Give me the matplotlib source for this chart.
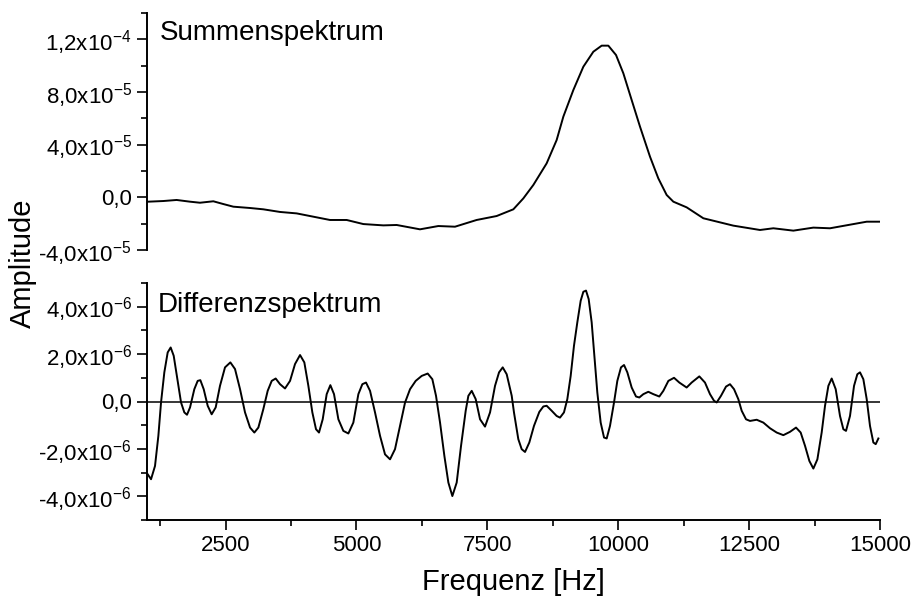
import numpy as np
import matplotlib
matplotlib.use("Agg")
import matplotlib.pyplot as plt
from matplotlib.ticker import MultipleLocator, FuncFormatter

# ---- data ----
# Summenspektrum: frequency [Hz] and amplitude [x1e-5]
sum_freq = [1000, 1025, 1312, 1566, 1821, 2012, 2267, 2458, 2649, 2967, 3222, 3540,
            3859, 4177, 4495, 4814, 5132, 5514, 5769, 6214, 6564, 6883, 7296, 7678,
            7997, 8188, 8379, 8633, 8824, 8952, 9143, 9334, 9525, 9684, 9811, 9958,
            10098, 10257, 10416, 10607, 10766, 10925, 11053, 11307, 11626, 12199,
            12708, 12963, 13345, 13727, 14045, 14746, 15000]
sum_amp_e5 = [-0.33, -0.33, -0.28, -0.20, -0.33, -0.41, -0.30, -0.51, -0.71, -0.81,
              -0.91, -1.11, -1.22, -1.47, -1.72, -1.72, -2.03, -2.13, -2.10, -2.43,
              -2.18, -2.23, -1.72, -1.42, -0.91, -0.08, 0.94, 2.58, 4.35, 6.13, 8.15,
              9.92, 11.06, 11.52, 11.52, 10.81, 9.42, 7.39, 5.37, 3.09, 1.44, 0.18,
              -0.33, -0.76, -1.59, -2.15, -2.48, -2.35, -2.53, -2.30, -2.35, -1.85,
              -1.85]

# Differenzspektrum: frequency [Hz] and amplitude [x1e-6]
diff_freq = [1013, 1077, 1153, 1217, 1268, 1331, 1395, 1452, 1510, 1580, 1650, 1713,
             1764, 1822, 1904, 1968, 2019, 2083, 2159, 2235, 2312, 2394, 2490, 2592,
             2681, 2777, 2872, 2968, 3050, 3127, 3222, 3305, 3382, 3458, 3541, 3636,
             3732, 3827, 3923, 4005, 4082, 4158, 4228, 4285, 4356, 4432, 4502, 4572,
             4655, 4750, 4846, 4941, 5037, 5113, 5183, 5260, 5355, 5451, 5546, 5642,
             5737, 5833, 5929, 6024, 6132, 6247, 6361, 6450, 6520, 6597, 6680, 6756,
             6832, 6915, 6998, 7087, 7138, 7202, 7278, 7361, 7456, 7552, 7647, 7724,
             7794, 7870, 7966, 8009, 8092, 8156, 8220, 8302, 8391, 8493, 8570, 8633,
             8729, 8824, 8888, 8964, 9028, 9092, 9155, 9219, 9283, 9334, 9385, 9436,
             9493, 9544, 9601, 9665, 9729, 9780, 9843, 9920, 9983, 10053, 10111,
             10174, 10257, 10340, 10403, 10480, 10575, 10671, 10785, 10862, 10958,
             11066, 11167, 11307, 11403, 11549, 11657, 11753, 11830, 11881, 11963,
             12059, 12135, 12212, 12294, 12358, 12441, 12517, 12645, 12772, 12900,
             13027, 13154, 13281, 13396, 13485, 13568, 13651, 13727, 13804, 13886,
             13950, 14014, 14077, 14154, 14236, 14300, 14351, 14427, 14504, 14567,
             14618, 14682, 14746, 14809, 14873, 14918, 14969]
diff_amp_e6 = [-3.07, -3.28, -2.72, -1.45, -0.04, 1.23, 2.07, 2.28, 1.93, 0.94, -0.04,
               -0.46, -0.56, -0.25, 0.52, 0.87, 0.90, 0.52, -0.18, -0.54, -0.25, 0.66,
               1.44, 1.65, 1.37, 0.52, -0.46, -1.10, -1.31, -1.10, -0.32, 0.45, 0.87,
               0.97, 0.73, 0.55, 0.87, 1.58, 1.96, 1.65, 0.66, -0.46, -1.17, -1.31,
               -0.75, 0.31, 0.69, 0.31, -0.75, -1.24, -1.35, -0.89, 0.31, 0.73, 0.80,
               0.45, -0.46, -1.45, -2.23, -2.44, -2.01, -1.03, -0.04, 0.52, 0.87, 1.08,
               1.18, 0.94, 0.24, -0.89, -2.30, -3.42, -3.99, -3.42, -1.87, -0.39, 0.24,
               0.45, 0.10, -0.75, -1.06, -0.46, 0.66, 1.23, 1.44, 1.15, 0.24, -0.46,
               -1.59, -2.01, -2.13, -1.73, -1.03, -0.44, -0.21, -0.18, -0.39, -0.61,
               -0.68, -0.46, 0.10, 1.08, 2.35, 3.34, 4.25, 4.63, 4.68, 4.32, 3.34, 1.93,
               0.38, -0.89, -1.52, -1.56, -1.03, -0.04, 0.87, 1.44, 1.54, 1.23, 0.59,
               0.21, 0.17, 0.31, 0.41, 0.31, 0.21, 0.45, 0.87, 1.00, 0.80, 0.59, 0.80,
               1.06, 0.80, 0.31, 0.03, -0.04, 0.24, 0.63, 0.73, 0.52, 0.10, -0.39,
               -0.75, -0.82, -0.77, -0.89, -1.13, -1.31, -1.42, -1.28, -1.10, -1.31,
               -1.87, -2.51, -2.83, -2.44, -1.31, -0.18, 0.66, 0.97, 0.52, -0.61, -1.17,
               -1.24, -0.61, 0.66, 1.15, 1.23, 0.94, 0.10, -1.03, -1.73, -1.80, -1.56]

x_ticks = [2500, 5000, 7500, 10000, 12500, 15000]
title_top = "Summenspektrum"
title_bottom = "Differenzspektrum"
xlabel = "Frequenz [Hz]"
ylabel = "Amplitude"

plt.rcParams['font.family'] = ['Liberation Sans', 'DejaVu Sans']
plt.rcParams['mathtext.fontset'] = 'custom'
plt.rcParams['mathtext.rm'] = 'Liberation Sans'
plt.rcParams['mathtext.it'] = 'Liberation Sans:italic'
plt.rcParams['mathtext.bf'] = 'Liberation Sans:bold'


def fmt(v, pos):
    if abs(v) < 1e-15:
        return "0,0"
    e = int(np.floor(np.log10(abs(v)) + 1e-9))
    m = v / 10 ** e
    return f"{m:.1f}".replace('.', ',') + r"x10$^{" + str(e) + "}$"


W, H = 913, 606
fig = plt.figure(figsize=(W / 100, H / 100), dpi=100)
L, R = 147 / W, 880 / W
ax1 = fig.add_axes([L, 1 - 250 / H, R - L, (250 - 13) / H])
ax2 = fig.add_axes([L, 1 - 520 / H, R - L, (520 - 283) / H])

lw = 1.4
ax1.plot(sum_freq, np.array(sum_amp_e5) * 1e-5, color='black', lw=lw,
         solid_joinstyle='round')
ax2.plot(diff_freq, np.array(diff_amp_e6) * 1e-6, color='black', lw=lw,
         solid_joinstyle='round')
ax2.axhline(0, color='black', lw=1.1)

for ax in (ax1, ax2):
    ax.set_xlim(1000, 15000)
    ax.spines['top'].set_visible(False)
    ax.spines['right'].set_visible(False)
    ax.spines['left'].set_linewidth(1.4)
    ax.spines['bottom'].set_linewidth(1.4)
    ax.yaxis.set_major_formatter(FuncFormatter(fmt))
    ax.tick_params(axis='both', which='major', direction='out', length=7, width=1.2,
                   labelsize=16, pad=4)
    ax.tick_params(axis='both', which='minor', direction='out', length=4, width=1.2)

ax1.set_ylim(-4e-5, 1.4e-4)
ax1.yaxis.set_major_locator(MultipleLocator(4e-5))
ax1.yaxis.set_minor_locator(MultipleLocator(2e-5))
ax1.spines['bottom'].set_visible(False)
ax1.tick_params(axis='x', which='both', bottom=False, labelbottom=False)

ax2.set_ylim(-5e-6, 5e-6)
ax2.yaxis.set_major_locator(MultipleLocator(2e-6))
ax2.yaxis.set_minor_locator(MultipleLocator(1e-6))
ax2.set_xticks(x_ticks)
ax2.xaxis.set_minor_locator(MultipleLocator(1250))
ax2.set_xticklabels([str(t) for t in x_ticks])

ax1.text(0.018, 0.97, title_top, transform=ax1.transAxes, fontsize=20,
         ha='left', va='top')
ax2.text(0.014, 0.96, title_bottom, transform=ax2.transAxes, fontsize=20,
         ha='left', va='top')

fig.text(23 / W, 1 - 263 / H, ylabel, rotation=90, fontsize=21,
         ha='center', va='center')
fig.text((L + R) / 2, 1 - 582 / H, xlabel, fontsize=21, ha='center', va='center')

fig.savefig("out.png", dpi=100)
